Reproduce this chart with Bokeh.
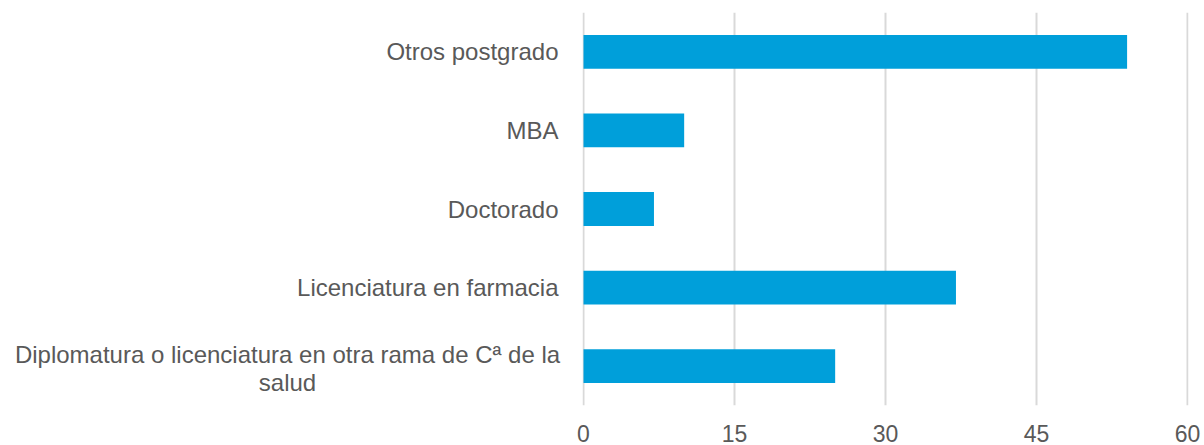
from bokeh.plotting import figure
from bokeh.layouts import row
from bokeh.embed import file_html
from bokeh.resources import INLINE
from bokeh.models import FactorRange, Range1d, FixedTicker, ColumnDataSource

categories = [
    "Otros postgrado",
    "MBA",
    "Doctorado",
    "Licenciatura en farmacia",
    "Diplomatura o licenciatura en otra rama de Cª de la\nsalud",
]
values = [54, 10, 7, 37, 25]
x_ticks = [0, 15, 30, 45, 60]

TEXT_COLOR = "#595959"
FONT = "Liberation Sans"

factors = list(reversed(categories))
y_range = FactorRange(factors=factors, range_padding=0)
src = ColumnDataSource(dict(cat=categories, val=values))

# left panel holding the category labels
LABEL_W = 572
LABEL_RIGHT = 558
lab = figure(
    y_range=y_range, x_range=Range1d(0, LABEL_W),
    width=LABEL_W, height=445,
    x_axis_location=None, y_axis_location=None,
    output_backend="svg", toolbar_location=None,
    min_border_left=0, min_border_right=0, min_border_top=12, min_border_bottom=40,
)
lab.outline_line_color = None
lab.grid.visible = False
single = ColumnDataSource(dict(cat=categories[:-1], x=[LABEL_RIGHT] * (len(categories) - 1)))
lab.text(x="x", y="cat", text="cat", source=single,
         text_align="right", text_baseline="middle",
         text_font={"value": FONT}, text_font_size="24px", text_color=TEXT_COLOR)
multi = ColumnDataSource(dict(cat=categories[-1:], x=[287]))
lab.text(x="x", y="cat", text="cat", source=multi,
         text_align="center", text_baseline="middle", text_line_height=1.05,
         y_offset=2,
         text_font={"value": FONT}, text_font_size="24px", text_color=TEXT_COLOR)

# main chart
p = figure(
    y_range=y_range,
    x_range=Range1d(-0.1, 60.1),
    width=630, height=445,
    y_axis_location=None,
    output_backend="svg", toolbar_location=None,
    min_border_left=10, min_border_right=14, min_border_top=12, min_border_bottom=40,
)
p.hbar(y="cat", right="val", left=0, height=0.43, source=src,
       fill_color="#009FDA", line_color=None)

p.outline_line_color = None
p.ygrid.visible = False
p.xgrid.grid_line_color = "#D9D9D9"
p.xgrid.grid_line_width = 2
p.xaxis.ticker = FixedTicker(ticks=x_ticks)
ax = p.xaxis[0]
ax.axis_line_color = None
ax.major_tick_line_color = None
ax.minor_tick_line_color = None
ax.major_tick_out = 0
ax.major_tick_in = 0
ax.minor_tick_out = 0
ax.major_label_text_color = TEXT_COLOR
ax.major_label_text_font = FONT
ax.major_label_text_font_size = "23px"
ax.major_label_standoff = 19

layout = row(lab, p, spacing=0)
open("out.html", "w").write(file_html(layout, INLINE))
